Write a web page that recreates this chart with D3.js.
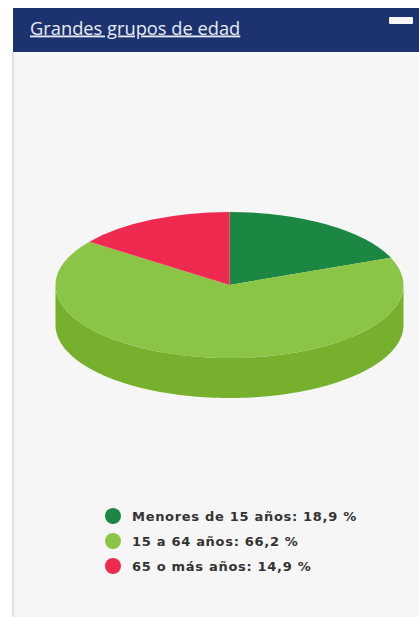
<!DOCTYPE html>
<html lang="es">
  <head>
    <meta charset="utf-8">
    <title>Grandes grupos de edad</title>
    <style>
      html, body { margin: 0; padding: 0; background: #fff; }
      #my_chart { width: 419px; height: 622px; overflow: hidden; }
      svg { display: block; }
    </style>
  </head>
  <body>
    <div id="my_chart"></div>

    <script src="https://d3js.org/d3.v7.min.js"></script>
    <script>
    var title = "Grandes grupos de edad";
    var categories = ["Menores de 15 años", "15 a 64 años", "65 o más años"];
    var values = [18.9, 66.2, 14.9];
    var valueLabels = ["18,9 %", "66,2 %", "14,9 %"];
    var topColors = ["#1b8743", "#8bc546", "#ef2a50"];
    var wallColors = ["#14703a", "#76b02c", "#c81f40"];

    var width = 419, height = 622;
    var cx = 229.5, cy = 285, rx = 174, ry = 73, depth = 40;

    var svg = d3.select("#my_chart")
        .append("svg")
        .attr("width", width)
        .attr("height", height);

    // panel
    svg.append("rect")
        .attr("x", 13).attr("y", 8)
        .attr("width", width - 13).attr("height", 609)
        .attr("fill", "#f6f6f6");

    svg.append("rect")
        .attr("x", 12).attr("y", 52)
        .attr("width", 2).attr("height", 565)
        .attr("fill", "#e2e2e2");

    // header
    svg.append("rect")
        .attr("x", 13).attr("y", 8)
        .attr("width", width - 13).attr("height", 44)
        .attr("fill", "#1c3370");

    svg.append("text")
        .attr("x", 30).attr("y", 34.5)
        .attr("font-family", "'Open Sans', sans-serif")
        .attr("font-size", 18.3)
        .attr("fill", "#e8ecf4")
        .attr("text-decoration", "underline")
        .text(title);

    svg.append("rect")
        .attr("x", 389).attr("y", 17)
        .attr("width", 24).attr("height", 7)
        .attr("rx", 1)
        .attr("fill", "#f4f6fa");

    // pie, squashed into an ellipse
    var pie = d3.pie().sort(null).value(function(d) { return d; });
    var slices = pie(values);

    var x = d3.scaleLinear().domain([-1, 1]).range([cx - rx, cx + rx]);
    var y = d3.scaleLinear().domain([-1, 1]).range([cy - ry, cy + ry]);

    var wallLine = d3.line()
        .x(function(p) { return x(p[0]); })
        .y(function(p) { return y(p[1]) + p[2]; });

    // front wall of a slice, only the part between 3 and 9 o'clock shows
    function wallPath(s) {
      var a0 = Math.max(s.startAngle, Math.PI / 2);
      var a1 = Math.min(s.endAngle, Math.PI * 3 / 2);
      if (a1 <= a0) return null;
      var angles = d3.range(a0, a1, 0.01).concat([a1]);
      var upper = angles.map(function(a) { return [Math.sin(a), -Math.cos(a), 0]; });
      var lower = angles.slice().reverse().map(function(a) { return [Math.sin(a), -Math.cos(a), depth]; });
      return wallLine(upper.concat(lower)) + "Z";
    }

    svg.append("g")
      .selectAll("path")
      .data(slices)
      .enter().append("path")
        .attr("d", wallPath)
        .attr("fill", function(d, i) { return wallColors[i]; });

    var arc = d3.arc().innerRadius(0).outerRadius(1);

    svg.append("g")
        .attr("transform", "translate(" + cx + "," + cy + ") scale(" + rx + "," + ry + ")")
      .selectAll("path")
      .data(slices)
      .enter().append("path")
        .attr("d", arc)
        .attr("fill", function(d, i) { return topColors[i]; });

    // legend
    var legendY = d3.scalePoint().domain(categories).range([516, 566]);

    var legend = svg.append("g")
      .selectAll("g")
      .data(categories)
      .enter().append("g")
        .attr("transform", function(d) { return "translate(0," + legendY(d) + ")"; });

    legend.append("circle")
        .attr("cx", 113)
        .attr("r", 8)
        .attr("fill", function(d, i) { return topColors[i]; });

    legend.append("text")
        .attr("x", 132)
        .attr("y", 4.5)
        .attr("font-family", "'DejaVu Sans', sans-serif")
        .attr("font-weight", "bold")
        .attr("font-size", 13)
        .attr("letter-spacing", 0.7)
        .attr("fill", "#333")
        .text(function(d, i) { return d + ": " + valueLabels[i]; });
    </script>
  </body>
</html>
